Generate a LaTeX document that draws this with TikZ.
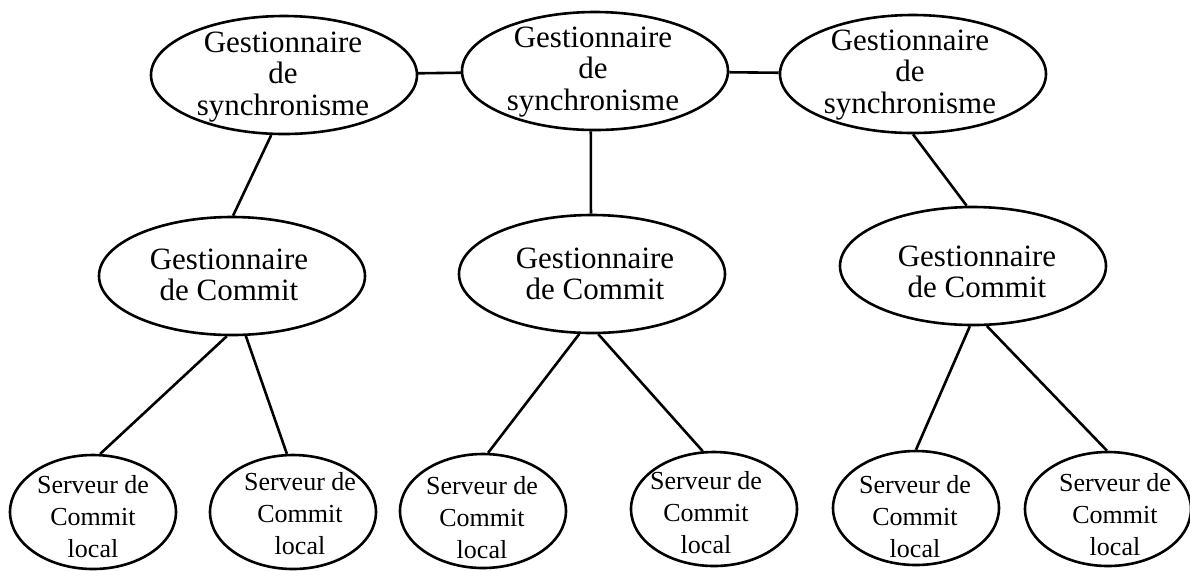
\documentclass[tikz,border=0pt]{standalone}
\usepackage{fontspec}
\setmainfont{Liberation Serif}
\usetikzlibrary{shapes.geometric}
\begin{document}
\begin{tikzpicture}[x=0.5pt,y=-0.5pt,
  ell/.style={draw, ellipse, line width=1.3pt, inner sep=0pt},
  bigell/.style={ell, minimum width=133pt, minimum height=59pt},
  smallell/.style={ell, minimum width=83pt, minimum height=57pt},
  toptxt/.style={align=center, inner sep=0pt, font=\fontsize{15.5}{15.75}\selectfont},
  bottxt/.style={align=center, inner sep=0pt, font=\fontsize{13}{16}\selectfont},
  link/.style={line width=1.3pt}]
\useasboundingbox (0,0) rectangle (1190,570);

% top level
\node[bigell] (t1) at (284,75) {};
\node[bigell] (t2) at (595,71) {};
\node[bigell] (t3) at (913,74) {};
\node[toptxt] (t1l) at (283,77) {Gestionnaire\\de\\synchronisme};
\node[toptxt] (t2l) at (593,72) {Gestionnaire\\de\\synchronisme};
\node[toptxt] (t3l) at (910,75) {Gestionnaire\\de\\synchronisme};

% middle level
\node[bigell] (m1) at (232,276) {};
\node[bigell] (m2) at (592,274) {};
\node[bigell] (m3) at (973,266) {};
\node[toptxt] (m1l) at (229,275) {Gestionnaire\\de Commit};
\node[toptxt] (m2l) at (595,274) {Gestionnaire\\de Commit};
\node[toptxt] (m3l) at (977,272) {Gestionnaire\\de Commit};

% bottom level
\node[smallell] (b1) at (93,512) {};
\node[smallell] (b2) at (293,512) {};
\node[smallell] (b3) at (483,511) {};
\node[smallell] (b4) at (714,509) {};
\node[smallell] (b5) at (916,508) {};
\node[smallell] (b6) at (1108,509) {};
\node[bottxt] (b1l) at (93,517) {Serveur de\\Commit\\local};
\node[bottxt] (b2l) at (300,514) {Serveur de\\Commit\\local};
\node[bottxt] (b3l) at (482,518) {Serveur de\\Commit\\local};
\node[bottxt] (b4l) at (706,513) {Serveur de\\Commit\\local};
\node[bottxt] (b5l) at (915,517) {Serveur de\\Commit\\local};
\node[bottxt] (b6l) at (1115,515) {Serveur de\\Commit\\local};

% connectors
\draw[link] (t1) -- (t2);
\draw[link] (t2) -- (t3);
\draw[link] (t1.258) -- (m1.89);
\draw[link] (t2.266) -- (m2.91);
\draw[link] (t3.270) -- (m3.96);
\draw[link] (m1.265) -- (b1.83);
\draw[link] (m1.283) -- (b2.96);
\draw[link] (m2.258) -- (b3.85);
\draw[link] (m2.276) -- (b4.101);
\draw[link] (m3.267) -- (b5.90);
\draw[link] (m3.283) -- (b6.91);
\end{tikzpicture}
\end{document}
